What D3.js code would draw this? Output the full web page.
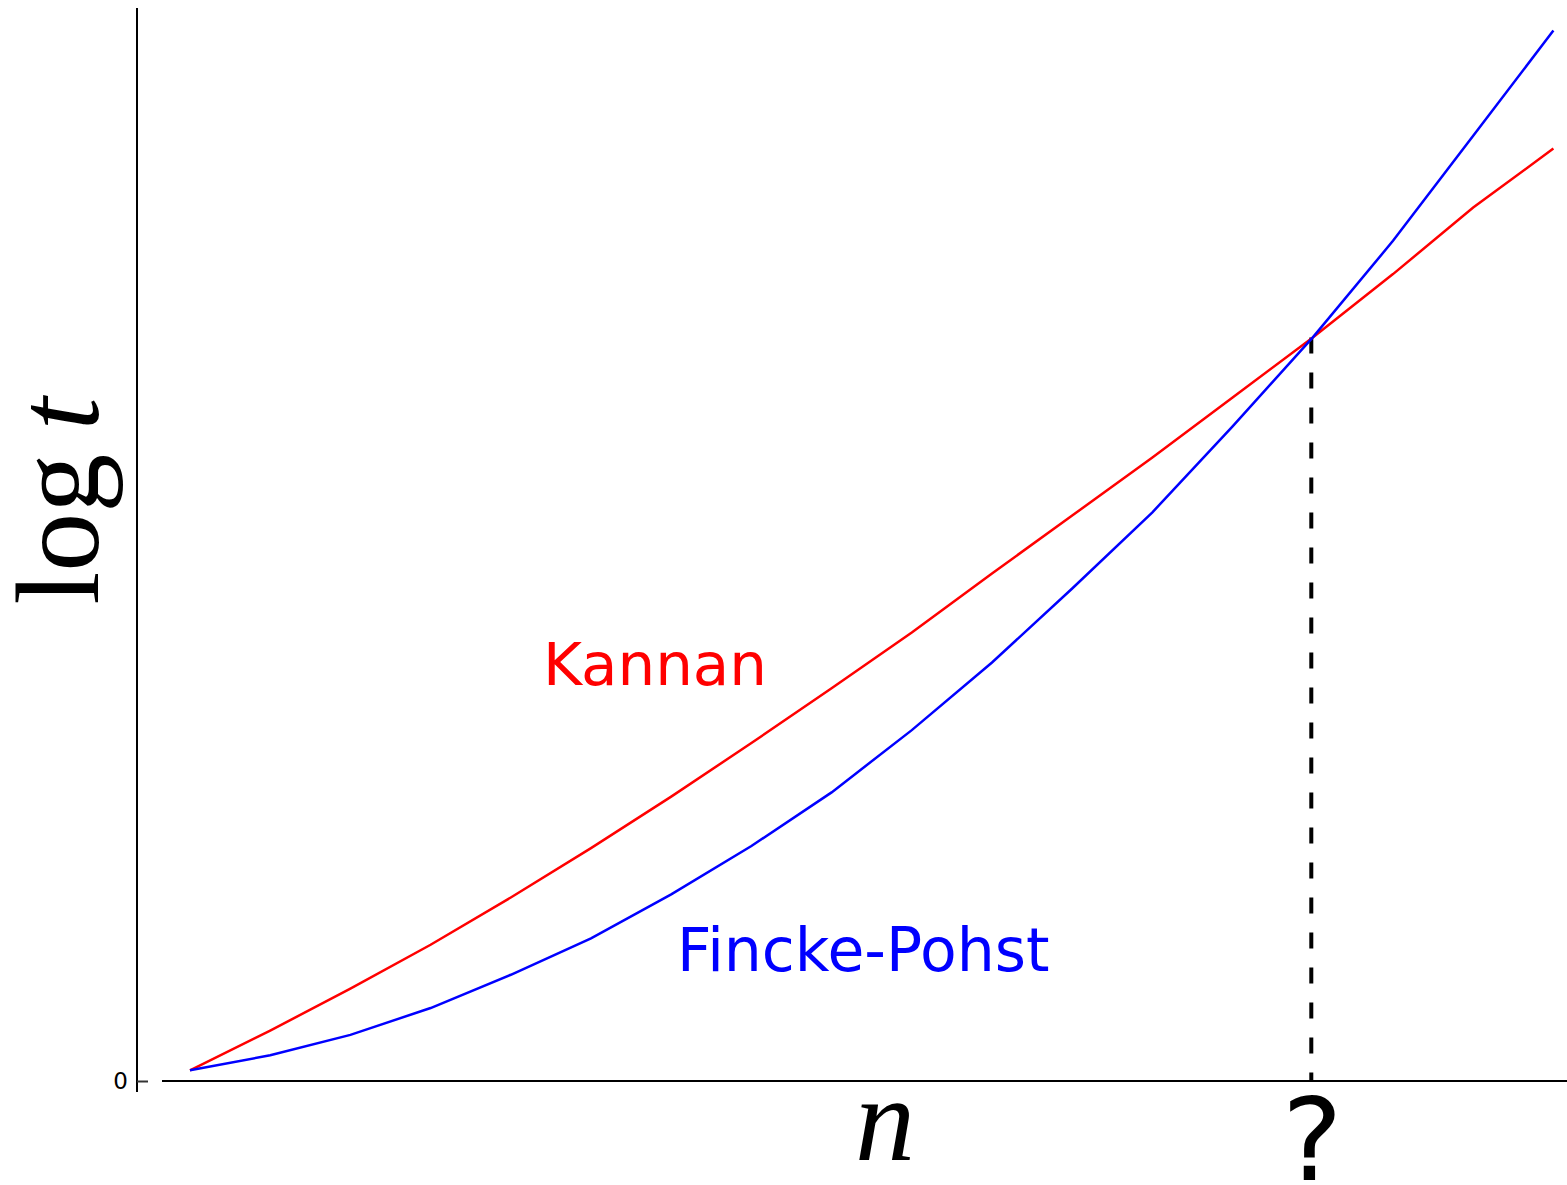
<!DOCTYPE html>
<html>
<head>
<meta charset="utf-8">
<script src="https://cdn.jsdelivr.net/npm/d3@7"></script>
<style>
  html, body { margin: 0; padding: 0; background: #fff; }
  svg { display: block; }
</style>
</head>
<body>
<svg id="chart" width="1567" height="1185"></svg>
<script>
// Problem size n (x) and log running time (y) for the two enumeration methods
const dims = [1, 2, 3, 4, 5, 6, 7, 8, 9, 10, 11, 12, 13, 14, 15, 16, 17, 18];
const kannan = [0.10, 0.47, 0.86, 1.27, 1.71, 2.17, 2.65, 3.15, 3.66, 4.18, 4.73, 5.27, 5.81, 6.37, 6.93, 7.52, 8.14, 8.69];
const finckePohst = [0.10, 0.24, 0.43, 0.68, 0.99, 1.33, 1.74, 2.19, 2.69, 3.27, 3.90, 4.59, 5.30, 6.10, 6.93, 7.83, 8.81, 9.79];
const crossoverN = 15;
const yTickValues = [0];
const yTickLabels = ["0"];

const svg = d3.select("#chart");

const x = d3.scaleLinear().domain([1, 18]).range([190, 1553.4]);
const y = d3.scaleLinear().domain([0, 10]).range([1081, 8]);

// spines
svg.append("line")
  .attr("x1", 137).attr("x2", 137)
  .attr("y1", 8).attr("y2", 1092)
  .attr("stroke", "#000").attr("stroke-width", 2);
svg.append("line")
  .attr("x1", 162).attr("x2", 1567)
  .attr("y1", y(0)).attr("y2", y(0))
  .attr("stroke", "#000").attr("stroke-width", 2);

// y axis: single tick at zero
const yAxis = d3.axisLeft(y)
  .tickValues(yTickValues)
  .tickFormat((d, i) => yTickLabels[i])
  .tickSizeInner(-11)
  .tickSizeOuter(0)
  .tickPadding(9);
const gy = svg.append("g").attr("transform", "translate(137,0)").call(yAxis);
gy.select(".domain").remove();
gy.selectAll(".tick line").attr("stroke", "#333").attr("stroke-width", 2);
gy.selectAll(".tick text")
  .attr("font-family", "DejaVu Sans")
  .attr("font-size", 23)
  .attr("fill", "#000");

// x axis: only the crossover point is labelled
const xAxis = d3.axisBottom(x)
  .tickValues([crossoverN])
  .tickFormat(() => "?")
  .tickSize(0)
  .tickPadding(0);
const gx = svg.append("g").attr("transform", `translate(0,${y(0)})`).call(xAxis);
gx.select(".domain").remove();
gx.selectAll(".tick text")
  .attr("font-family", "DejaVu Sans")
  .attr("font-size", 114)
  .attr("fill", "#000")
  .attr("dy", null)
  .attr("y", 99)
  .attr("dx", -1);

// dashed drop line at the crossover
const crossIdx = dims.indexOf(crossoverN);
svg.append("line")
  .attr("x1", x(crossoverN) - 1.5).attr("x2", x(crossoverN) - 1.5)
  .attr("y1", y(kannan[crossIdx])).attr("y2", y(0))
  .attr("stroke", "#000")
  .attr("stroke-width", 4)
  .attr("stroke-dasharray", "16,19");

const line = d3.line().x((d, i) => x(dims[i])).y(d => y(d));

svg.append("path")
  .datum(kannan)
  .attr("d", line)
  .attr("fill", "none")
  .attr("stroke", "#ff0000")
  .attr("stroke-width", 2.5);

svg.append("path")
  .datum(finckePohst)
  .attr("d", line)
  .attr("fill", "none")
  .attr("stroke", "#0000ff")
  .attr("stroke-width", 2.5);

// series labels
svg.append("text")
  .attr("x", 543).attr("y", 685)
  .attr("font-family", "DejaVu Sans")
  .attr("font-size", 59.5)
  .attr("fill", "#ff0000")
  .text("Kannan");

svg.append("text")
  .attr("x", 677).attr("y", 971)
  .attr("font-family", "DejaVu Sans")
  .attr("font-size", 60)
  .attr("fill", "#0000ff")
  .text("Fincke-Pohst");

// axis titles
svg.append("text")
  .attr("x", 885).attr("y", 1160)
  .attr("text-anchor", "middle")
  .attr("font-family", "Liberation Serif")
  .attr("font-style", "italic")
  .attr("font-size", 120)
  .attr("fill", "#000")
  .text("n");

const yTitle = svg.append("text")
  .attr("transform", "translate(98,501) rotate(-90)")
  .attr("text-anchor", "middle")
  .attr("font-family", "Liberation Serif")
  .attr("font-size", 118)
  .attr("fill", "#000");
yTitle.append("tspan").text("log\u2009");
yTitle.append("tspan").attr("font-style", "italic").text("t");
</script>
</body>
</html>
